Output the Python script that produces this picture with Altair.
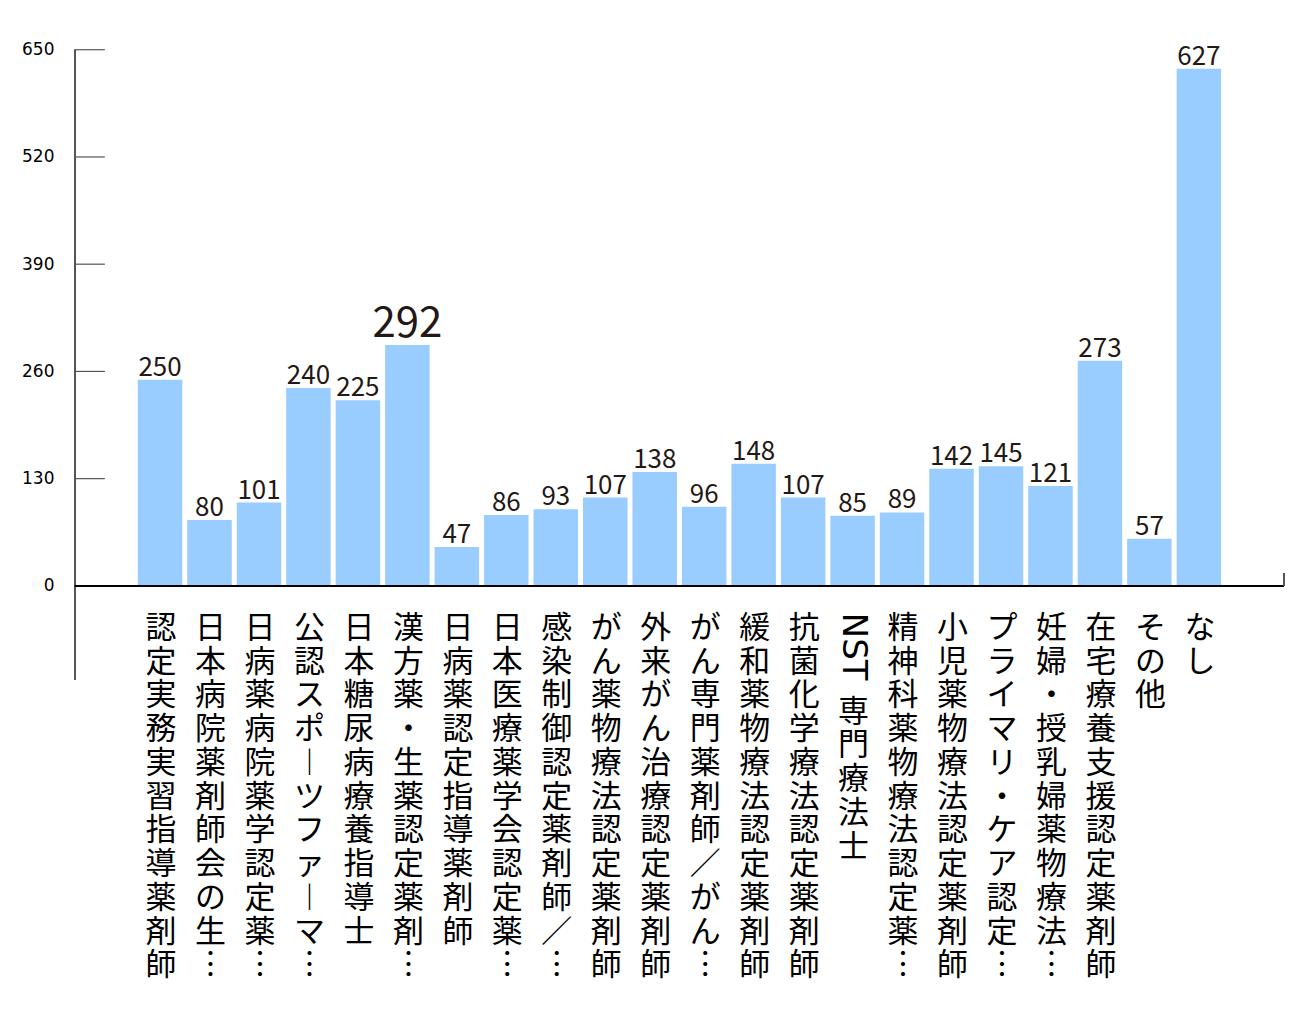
import altair as alt
import pandas as pd

# ---- data ----
labels = [
    "認定実務実習指導薬剤師",
    "日本病院薬剤師会の生…",
    "日病薬病院薬学認定薬…",
    "公認スポーツファーマ…",
    "日本糖尿病療養指導士",
    "漢方薬・生薬認定薬剤…",
    "日病薬認定指導薬剤師",
    "日本医療薬学会認定薬…",
    "感染制御認定薬剤師／…",
    "がん薬物療法認定薬剤師",
    "外来がん治療認定薬剤師",
    "がん専門薬剤師／がん…",
    "緩和薬物療法認定薬剤師",
    "抗菌化学療法認定薬剤師",
    "NST 専門療法士",
    "精神科薬物療法認定薬…",
    "小児薬物療法認定薬剤師",
    "プライマリ・ケア認定…",
    "妊婦・授乳婦薬物療法…",
    "在宅療養支援認定薬剤師",
    "その他",
    "なし",
]
values = [250, 80, 101, 240, 225, 292, 47, 86, 93, 107, 138, 96, 148, 107,
          85, 89, 142, 145, 121, 273, 57, 627]
emphasized = ["漢方薬・生薬認定薬剤…"]
y_ticks = [0, 130, 260, 390, 520, 650]

W, H = 1211, 537
VERT = {"…": "︙", "ー": "︱"}


def split_latin(s):
    i = 0
    while i < len(s) and ord(s[i]) < 128:
        i += 1
    return s[:i].strip(), s[i:]


rows = []
for lab, v in zip(labels, values):
    latin, rest = split_latin(lab)
    rows.append({
        "cat": lab,
        "val": v,
        "vtext": "\n".join(VERT.get(c, c) for c in rest),
        "latin": latin,
        "emph": lab in emphasized,
    })
df = pd.DataFrame(rows)
tick_df = pd.DataFrame({"t": y_ticks})

order = labels
x = alt.X("cat:N", sort=order, axis=None,
          scale=alt.Scale(range=[63, 1148], paddingInner=0.101, paddingOuter=0))
y = alt.Y("val:Q", scale=alt.Scale(domain=[0, 650], nice=False, zero=True),
          axis=alt.Axis(values=y_ticks, ticks=False, tickSize=0, domain=False,
                        grid=False, labelPadding=21, labelFont="DejaVu Sans",
                        labelFontSize=17, labelColor="#000000", title=None))

base = alt.Chart(df)

bars = base.mark_bar(color="#99ccff").encode(x=x, y=y)

vals_norm = base.transform_filter("!datum.emph").mark_text(
    baseline="alphabetic", align="center", dy=-4,
    font="Noto Sans CJK JP", fontSize=26, color="#231815"
).encode(x=x, y=y, text="val:Q")

vals_emph = base.transform_filter("datum.emph").mark_text(
    baseline="alphabetic", align="center", dy=-8,
    font="Noto Sans CJK JP", fontSize=42, color="#231815"
).encode(x=x, y=y, text="val:Q")

cat_norm = base.transform_filter("datum.latin == ''").mark_text(
    baseline="top", align="center", dx=1, lineBreak="\n", lineHeight=33.8,
    font="Noto Sans CJK JP", fontSize=31, color="#000000"
).encode(x=x, y=alt.value(H + 28), text="vtext:N")

cat_latin_rest = base.transform_filter("datum.latin != ''").mark_text(
    baseline="top", align="center", dx=1, dy=84, lineBreak="\n", lineHeight=33.8,
    font="Noto Sans CJK JP", fontSize=31, color="#000000"
).encode(x=x, y=alt.value(H + 28), text="vtext:N")

cat_latin = base.transform_filter("datum.latin != ''").mark_text(
    baseline="middle", align="left", angle=90, dx=0,
    font="DejaVu Sans", fontSize=34, color="#000000"
).encode(x=x, y=alt.value(H + 27), text="latin:N")

inner_ticks = alt.Chart(tick_df).mark_rule(color="#555555", strokeWidth=1.2).encode(
    y=alt.Y("t:Q"), x=alt.value(0), x2=alt.value(30))

y_line = alt.Chart(tick_df).mark_rule(color="#555555", strokeWidth=1.3).encode(
    x=alt.value(0), y=alt.value(0), y2=alt.value(631))

x_line = alt.Chart(tick_df).mark_rule(color="#000000", strokeWidth=1.3).encode(
    x=alt.value(0), x2=alt.value(W), y=alt.value(H))

end_tick = alt.Chart(tick_df).mark_rule(color="#555555", strokeWidth=1.3).encode(
    x=alt.value(W), y=alt.value(H - 13), y2=alt.value(H))

chart = alt.layer(
    bars, inner_ticks, y_line, x_line, end_tick,
    vals_norm, vals_emph, cat_norm, cat_latin_rest, cat_latin
).properties(
    width=W, height=H,
    background="white",
    autosize=alt.AutoSizeParams(type="none"),
    padding={"left": 67, "top": 41, "right": 8, "bottom": 430},
).configure_view(stroke=None, strokeWidth=0)

chart.save("out.html", embed_options={"renderer": "svg", "actions": False})
